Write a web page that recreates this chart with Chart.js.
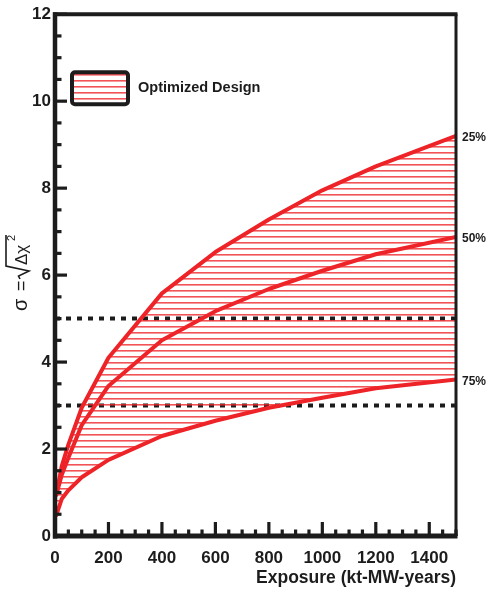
<!DOCTYPE html>
<html>
<head>
<meta charset="utf-8">
<script src="https://cdn.jsdelivr.net/npm/chart.js@4.4.0/dist/chart.umd.min.js"></script>
<style>
    html, body { margin: 0; padding: 0; background: #fff; }
    #box { width: 489px; height: 599px; }
</style>
</head>
<body>
<div id="box"><canvas id="chartExposure"></canvas></div>
<script>
// exposure (kt-MW-years) and sigma for the three quantile curves
var exposure = [5, 25, 50, 100, 200, 400, 600, 800, 1000, 1200, 1500];
var sigma25 = [0.95, 1.6, 2.1, 2.95, 4.1, 5.58, 6.53, 7.28, 7.95, 8.5, 9.2];
var sigma50 = [0.95, 1.4, 1.8, 2.55, 3.45, 4.5, 5.17, 5.68, 6.1, 6.48, 6.88];
var sigma75 = [0.48, 0.85, 1.05, 1.35, 1.75, 2.3, 2.65, 2.95, 3.18, 3.4, 3.6];
var seriesLabels = ["25%", "50%", "75%"];
var refLevels = [5, 3];
var xRange = [0, 1500];
var yRange = [0, 12];
var legendText = "Optimized Design";

var RED = '#ee2328';
var INK = '#1c1c1c';
var FONT = "'Liberation Sans', Arial, Helvetica, sans-serif";

// horizontal hatch pattern
function hatch() {
    var c = document.createElement('canvas');
    c.width = 8;
    c.height = 6;
    var g = c.getContext('2d');
    g.fillStyle = 'rgba(238,40,45,0.8)';
    g.fillRect(0, 2, 8, 1.6);
    return g.createPattern(c, 'repeat');
}

function pts(ys) {
    return exposure.map(function (x, i) { return { x: x, y: ys[i] }; });
}

function flat(v) {
    return [{ x: xRange[0], y: v }, { x: xRange[1], y: v }];
}

function line(ctx, x1, y1, x2, y2) {
    ctx.beginPath();
    ctx.moveTo(x1, y1);
    ctx.lineTo(x2, y2);
    ctx.stroke();
}

var frame = {
    id: 'frame',
    afterDraw: function (chart) {
        var ctx = chart.ctx, a = chart.chartArea;
        var xs = chart.scales.x, ys = chart.scales.y;
        ctx.save();
        ctx.strokeStyle = INK;
        ctx.lineCap = 'butt';

        ctx.lineWidth = 4.5;
        line(ctx, a.left, a.top - 2, a.left, a.bottom + 2.5);
        ctx.lineWidth = 5;
        line(ctx, a.left - 2, a.bottom, a.right + 1.5, a.bottom);
        ctx.lineWidth = 4;
        line(ctx, a.left - 2, a.top, a.right + 1.5, a.top);
        ctx.lineWidth = 3;
        line(ctx, a.right, a.top, a.right, a.bottom);

        // inward ticks
        ctx.lineWidth = 3.2;
        for (var v = yRange[0]; v <= yRange[1]; v += 0.5) {
            var py = ys.getPixelForValue(v);
            line(ctx, a.left, py, a.left + (v % 2 === 0 ? 12 : 6.5), py);
        }
        for (var u = xRange[0]; u <= xRange[1]; u += 50) {
            var px = xs.getPixelForValue(u);
            line(ctx, px, a.bottom, px, a.bottom - (u % 200 === 0 ? 14 : 6.5));
        }

        // legend box
        var lx = a.left + 17, ly = a.top + 58, lw = 56, lh = 32;
        ctx.fillStyle = hatch();
        ctx.fillRect(lx, ly, lw, lh);
        ctx.lineWidth = 4;
        ctx.beginPath();
        ctx.roundRect(lx, ly, lw, lh, 3);
        ctx.stroke();
        ctx.fillStyle = INK;
        ctx.font = "bold 14.5px " + FONT;
        ctx.textBaseline = 'middle';
        ctx.textAlign = 'left';
        ctx.fillText(legendText, lx + 66, ly + 16);

        // y title: sigma = sqrt(delta chi^2)
        ctx.translate(27, 311);
        ctx.rotate(-Math.PI / 2);
        ctx.textBaseline = 'alphabetic';
        ctx.font = "20px " + FONT;
        ctx.fillText("\u03c3", 0, 0);
        ctx.font = "18px " + FONT;
        ctx.fillText("=", 20, 0);
        var s = 32;
        ctx.lineWidth = 1.6;
        ctx.lineJoin = 'miter';
        ctx.beginPath();
        ctx.moveTo(s, -7);
        ctx.lineTo(s + 3, -8.5);
        ctx.lineTo(s + 8, 2);
        ctx.lineTo(s + 13, -21);
        ctx.lineTo(s + 44, -21);
        ctx.stroke();
        ctx.font = "17px " + FONT;
        ctx.fillText("\u0394\u03c7", s + 14, 0);
        ctx.font = "11px " + FONT;
        ctx.fillText("2", s + 38, -12);
        ctx.restore();
    },
    afterDatasetsDraw: function (chart) {
        var ctx = chart.ctx, a = chart.chartArea;
        ctx.save();
        ctx.fillStyle = INK;
        ctx.font = "bold 12px " + FONT;
        ctx.textBaseline = 'middle';
        ctx.textAlign = 'left';
        for (var i = 0; i < seriesLabels.length; i++) {
            var d = chart.getDatasetMeta(i).data;
            var p = d[d.length - 1];
            ctx.fillText(seriesLabels[i], a.right + 6, p.y + 2);
        }
        ctx.restore();
    }
};

var curve = function (ys, fill) {
    return {
        data: pts(ys),
        borderColor: RED,
        borderWidth: 4,
        backgroundColor: hatch(),
        fill: fill,
        pointRadius: 0,
        tension: 0,
        borderJoinStyle: 'round',
        borderCapStyle: 'round',
        order: 1
    };
};

var dotted = function (v) {
    return {
        data: flat(v),
        borderColor: INK,
        borderWidth: 4,
        borderDash: [5, 6],
        pointRadius: 0,
        fill: false,
        order: 2
    };
};

var ctx = document.getElementById('chartExposure').getContext('2d');

var chart = new Chart(ctx, {
    type: 'line',
    data: {
        datasets: [
            curve(sigma25, 2),
            curve(sigma50, false),
            curve(sigma75, false),
            dotted(refLevels[0]),
            dotted(refLevels[1])
        ]
    },
    options: {
        responsive: true,
        maintainAspectRatio: false,
        animation: false,
        layout: { padding: { top: 13, right: 33, left: 0, bottom: 0 } },
        plugins: {
            legend: { display: false },
            tooltip: { enabled: false }
        },
        scales: {
            x: {
                type: 'linear',
                min: xRange[0],
                max: xRange[1],
                grid: { display: false, drawTicks: false },
                border: { display: false },
                ticks: {
                    stepSize: 200,
                    includeBounds: false,
                    padding: 12,
                    maxRotation: 0,
                    autoSkip: false,
                    color: INK,
                    font: { family: FONT, size: 17, weight: 'bold' },
                    callback: function (v) { return String(v); }
                },
                title: {
                    display: true,
                    text: 'Exposure (kt-MW-years)',
                    align: 'end',
                    color: INK,
                    font: { family: FONT, size: 17.5, weight: 'bold' },
                    padding: { top: 0, bottom: 10 }
                },
                afterFit: function (s) { s.height = 63; }
            },
            y: {
                min: yRange[0],
                max: yRange[1],
                grid: { display: false, drawTicks: false },
                border: { display: false },
                ticks: {
                    stepSize: 2,
                    padding: 4,
                    color: INK,
                    font: { family: FONT, size: 17, weight: 'bold' }
                },
                afterFit: function (s) { s.width = 55; }
            }
        }
    },
    plugins: [frame]
});
</script>
</body>
</html>
